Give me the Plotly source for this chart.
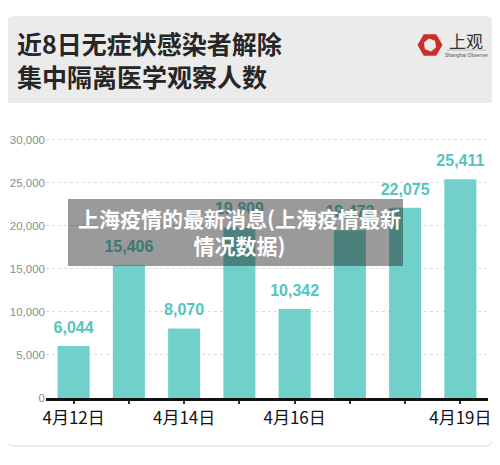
import numpy as np
import plotly.graph_objects as go

categories = ["4月12日", "4月13日", "4月14日", "4月15日", "4月16日", "4月17日", "4月18日", "4月19日"]
values = [6044, 15406, 8070, 19809, 10342, 19472, 22075, 25411]
shown_ticks = ["4月12日", "4月14日", "4月16日", "4月19日"]
value_labels = [f"{v:,}" for v in values]
ytick_vals = [0, 5000, 10000, 15000, 20000, 25000, 30000]
ytick_text = [f"{v:,}" for v in ytick_vals]

title_text = "近8日无症状感染者解除<br>集中隔离医学观察人数"
overlay_text = "上海疫情的最新消息(上海疫情最新<br>情况数据)"

OFF = 8  # page body margin
W, H = 492, 457
ML, MR, MT, MB = 38, 12, 123, 67
PW, PH = W - ML - MR, H - MT - MB

def px(x):
    return (x - OFF - ML) / PW

def py(y):
    return (H - MB - (y - OFF)) / PH

def rounded_path(x0, y0, x1, y1, r, top_only=False):
    X0, X1, Y0, Y1 = px(x0), px(x1), py(y0), py(y1)
    rx, ry = r / PW, r / PH
    if top_only:
        return (f"M{X0},{Y1} L{X0},{Y0-ry} Q{X0},{Y0} {X0+rx},{Y0} "
                f"L{X1-rx},{Y0} Q{X1},{Y0} {X1},{Y0-ry} L{X1},{Y1} Z")
    return (f"M{X0},{Y1+ry} L{X0},{Y0-ry} Q{X0},{Y0} {X0+rx},{Y0} "
            f"L{X1-rx},{Y0} Q{X1},{Y0} {X1},{Y0-ry} L{X1},{Y1+ry} "
            f"Q{X1},{Y1} {X1-rx},{Y1} L{X0+rx},{Y1} Q{X0},{Y1} {X0},{Y1+ry} Z")

def hexagon(cx, cy, r, rot):
    ang = np.deg2rad(np.arange(6) * 60 + rot)
    pts = [(px(cx + r * np.cos(a)), py(cy + r * np.sin(a))) for a in ang]
    return "M" + " L".join(f"{a},{b}" for a, b in pts) + " Z"

fig = go.Figure()
fig.add_trace(go.Bar(
    x=categories, y=values, width=0.58,
    marker=dict(color="#72d0ca", line=dict(width=0)),
    hoverinfo="skip",
))
fig.add_trace(go.Scatter(
    x=categories, y=values, mode="markers+text", text=value_labels,
    textposition="top center",
    marker=dict(size=13, color="rgba(0,0,0,0)"),
    textfont=dict(family="Liberation Sans, Arial", size=16, color="#55c4bd", weight="bold"),
    hoverinfo="skip", cliponaxis=False,
))

shapes = [
    dict(type="path", path=rounded_path(6, 17, 493, 446, 8), xref="paper", yref="paper",
         fillcolor="white", line=dict(color="#ebead8", width=1.5), layer="below"),
    dict(type="path", path=rounded_path(6.5, 17.5, 492.5, 103, 8, top_only=True), xref="paper", yref="paper",
         fillcolor="#ebebeb", line=dict(width=0), layer="below"),
    dict(type="path", path=hexagon(430, 45, 12.5, 0), xref="paper", yref="paper",
         fillcolor="#cc2f2a", line=dict(width=0), layer="above"),
    dict(type="path", path=hexagon(430, 45, 6.5, 20), xref="paper", yref="paper",
         fillcolor="#ebebeb", line=dict(width=0), layer="above"),
    dict(type="line", x0=px(447), x1=px(486), y0=py(50), y1=py(50), xref="paper", yref="paper",
         line=dict(color="#999", width=0.6), layer="above"),
    dict(type="rect", x0=px(68), x1=px(403), y0=py(199), y1=py(266), xref="paper", yref="paper",
         fillcolor="rgba(30,30,30,0.45)", line=dict(width=0), layer="above"),
]

annotations = [
    dict(text=title_text, x=px(15), y=py(59), xref="paper", yref="paper",
         xanchor="left", yanchor="middle", align="left", showarrow=False,
         font=dict(family="Noto Sans CJK SC", size=25, color="#262626", weight="bold")),
    dict(text="上观", x=px(466), y=py(40), xref="paper", yref="paper",
         xanchor="center", yanchor="middle", showarrow=False,
         font=dict(family="Noto Sans CJK SC", size=17, color="#333")),
    dict(text="Shanghai Observer", x=px(466), y=py(54.5), xref="paper", yref="paper",
         xanchor="center", yanchor="middle", showarrow=False,
         font=dict(family="Liberation Sans", size=5, color="#555")),
    dict(text=overlay_text, x=px(239), y=py(231), xref="paper", yref="paper",
         xanchor="center", yanchor="middle", align="center", showarrow=False,
         font=dict(family="Noto Sans CJK SC", size=21, color="white", weight="bold")),
]

fig.update_layout(
    width=W, height=H,
    margin=dict(l=ML, r=MR, t=MT, b=MB, autoexpand=False),
    paper_bgcolor="white", plot_bgcolor="rgba(0,0,0,0)",
    showlegend=False, bargap=0.42,
    shapes=shapes, annotations=annotations,
    xaxis=dict(
        type="category", range=[-0.5, 7.5], automargin=False,
        tickvals=categories,
        ticktext=[c if c in shown_ticks else "" for c in categories],
        showline=True, linecolor="#111", linewidth=2.5,
        ticks="outside", ticklen=3, tickwidth=2, tickcolor="#333",
        tickfont=dict(family="Noto Sans CJK SC", size=17, color="#111"),
        showgrid=False, zeroline=False, fixedrange=True,
    ),
    yaxis=dict(
        range=[0, 31000], tickvals=ytick_vals, ticktext=ytick_text, automargin=False,
        showgrid=True, gridcolor="#dedede", griddash="dot", gridwidth=1,
        zeroline=False, showline=False, ticks="",
        tickfont=dict(family="Liberation Sans, Arial", size=11.5, color="#8c8c8c"),
        fixedrange=True,
    ),
)

fig.write_html("out.html")
